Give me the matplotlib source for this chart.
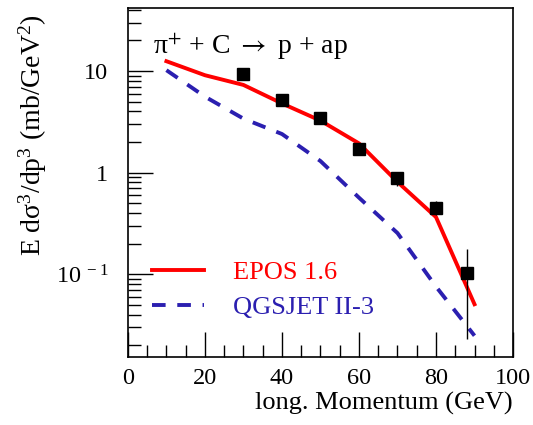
import numpy as np
import matplotlib
matplotlib.use('Agg')
import matplotlib.pyplot as plt
from matplotlib.ticker import FixedLocator, FixedFormatter, MultipleLocator

# data
data_x = [30, 40, 50, 60, 70, 80, 88]
data_y = [9.3, 5.2, 3.45, 1.7, 0.89, 0.445, 0.102]
data_lo = [0.2, 0.15, 0.1, 0.08, 0.15, 0.06, 0.079]
data_hi = [0.2, 0.15, 0.1, 0.08, 0.11, 0.075, 0.076]

epos_x = [10, 20, 30, 40, 50, 60, 70, 80, 90]
epos_y = [12.5, 9.1, 7.3, 4.8, 3.25, 1.94, 0.81, 0.365, 0.0506]

qgs_x = [10, 20, 30, 40, 50, 60, 70, 80, 90]
qgs_y = [10.2, 5.6, 3.4, 2.4, 1.3, 0.567, 0.254, 0.0755, 0.0248]

plt.rcParams['font.family'] = ['Liberation Serif', 'DejaVu Serif']
plt.rcParams['mathtext.fontset'] = 'stix'

fig = plt.figure(figsize=(5.33, 4.25), dpi=100)
ax = fig.add_axes([0.240, 0.160, 0.7225, 0.821])

blue = '#2b1fb0'
ax.plot(epos_x, epos_y, color='red', lw=2.8, label='EPOS 1.6', zorder=3)
ax.plot(qgs_x, qgs_y, color=blue, lw=2.8, ls=(0, (3.5, 3.0)), label='QGSJET II-3', zorder=3)
ax.errorbar(data_x, data_y, yerr=[data_lo, data_hi], fmt='s', color='black',
            ms=8, elinewidth=1, capsize=0, zorder=4)

ax.set_yscale('log')
ax.set_xlim(0, 100)
ax.set_ylim(0.0153, 41.7)

ax.xaxis.set_major_locator(MultipleLocator(20))
ax.xaxis.set_minor_locator(MultipleLocator(5))
ax.yaxis.set_major_locator(FixedLocator([0.1, 1, 10]))
ax.yaxis.set_major_formatter(FixedFormatter(['$\\mathregular{10^{\\ -1}}$', '1', '10']))
minors = [m * d for d in [0.01, 0.1, 1, 10] for m in range(2, 10)]
ax.yaxis.set_minor_locator(FixedLocator(minors))
ax.yaxis.set_minor_formatter(FixedFormatter([''] * len(minors)))

ax.tick_params(which='both', direction='in', top=False, right=False, labelsize=17.5)
ax.tick_params(which='major', length=18, width=1)
ax.tick_params(which='minor', length=9, width=1)
ax.tick_params(axis='y', pad=14)
ax.tick_params(axis='x', pad=8)
for s in ax.spines.values():
    s.set_linewidth(1.2)

ax.set_xlabel('long. Momentum (GeV)', fontsize=19, loc='right', labelpad=2)
ax.set_ylabel('E d$\\mathregular{\\sigma^3}$/dp$\\mathregular{^3}$ (mb/GeV$\\mathregular{^2}$)',
              fontsize=20)
ax.yaxis.set_label_coords(-0.205, 0.636)

ax.text(0.065, 0.87, 'π$^{+}$ + C $\\rightarrow$ p + ap', transform=ax.transAxes, fontsize=20)

leg = ax.legend(loc='lower left', bbox_to_anchor=(0.0, 0.04), frameon=False, fontsize=19,
                handlelength=2.0, handletextpad=1.1, labelspacing=0.45)
for t, c in zip(leg.get_texts(), ['red', blue]):
    t.set_color(c)

fig.savefig('out.png', dpi=100)
